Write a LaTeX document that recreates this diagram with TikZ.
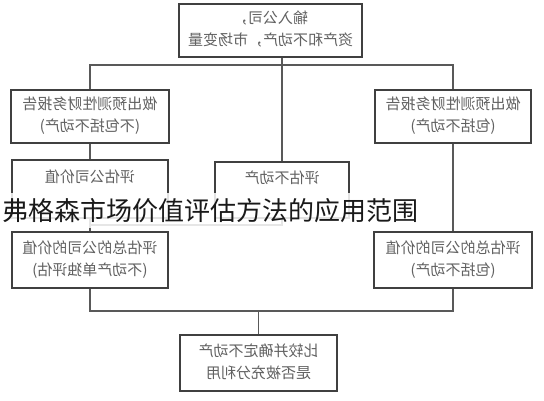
\documentclass[tikz,border=0pt]{standalone}
\usepackage{fontspec}
\newfontfamily\cjk{Noto Sans CJK SC}
% the scan prints every box text mirrored
\newcommand{\flipped}[1]{\reflectbox{\begin{tabular}{@{}c@{}}#1\end{tabular}}}
\begin{document}
\begin{tikzpicture}[x=1pt,y=-1pt,font=\cjk\fontsize{15}{22}\selectfont,
  box/.style={draw=black!75,line width=1.3pt,fill=white,text=black!62,inner sep=0pt},
  wire/.style={draw=black!65,line width=1.1pt}]
\useasboundingbox (0,0) rectangle (544,400);
\node[box,minimum width=183pt,minimum height=53pt] (input) at (270.5,30.5){\flipped{输入公司，\\资产和不动产，市场变量}};
\node[box,minimum width=158pt,minimum height=53pt] (exrep) at (90,116.5){\flipped{做出预测性财务报告\\(不包括不动产)}};
\node[box,minimum width=156pt,minimum height=53pt] (inrep) at (453,116.5){\flipped{做出预测性财务报告\\(包括不动产)}};
\node[box,minimum width=156pt,minimum height=58pt] (firmval) at (90,189){\flipped{评估公司价值\\ \strut}};
\node[box,minimum width=134pt,minimum height=56pt] (reval) at (282,190){\flipped{评估不动产\\ \strut}};
\node[box,minimum width=156pt,minimum height=56pt] (exsum) at (90,260){\flipped{评估总的公司的价值\\(不动产单独评估)}};
\node[box,minimum width=158pt,minimum height=56pt] (insum) at (453,260){\flipped{评估总的公司的价值\\(包括不动产)}};
\node[box,minimum width=157pt,minimum height=56pt] (verdict) at (258.5,363){\flipped{比较并确定不动产\\是否被充分利用}};
\coordinate (split) at (282,65);\coordinate (merge) at (90,225);\coordinate (gather) at (258.5,311);
\draw[wire] (input.south -| reval.north)--(reval.north);
\draw[wire] (exrep.north)|-(split)-|(inrep.north);
\draw[wire] (exrep.south)--(firmval.north);\draw[wire] (firmval.south)--(exsum.north);
\draw[wire] (reval.south)|-(merge);
\draw[wire] (inrep.south)--(insum.north);
\draw[wire] (exsum.south)|-(gather)-|(insum.south);\draw[wire] (gather)--(verdict.north);
\node[anchor=west,fill=white,fill opacity=.85,text opacity=1,text=black!90,inner xsep=2pt,inner ysep=0pt,minimum height=35pt,font=\cjk\fontsize{26}{26}\selectfont] (title) at (0,210.5){弗格森市场价值评估方法的应用范围};
\end{tikzpicture}
\end{document}
